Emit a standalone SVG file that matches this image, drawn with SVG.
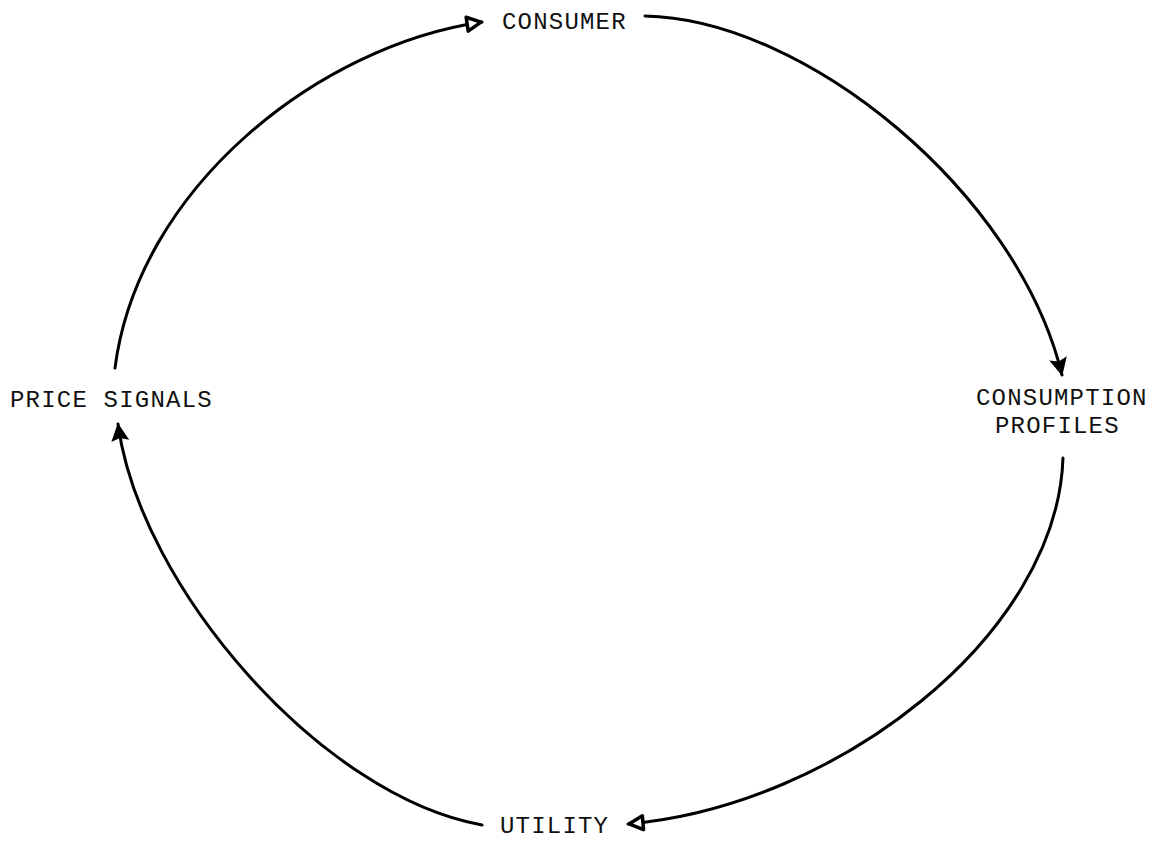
<svg xmlns="http://www.w3.org/2000/svg" width="1159" height="842" viewBox="0 0 1159 842">
  <style>
    .lbl { font-family: "Liberation Mono", "DejaVu Sans Mono", monospace; font-size: 24px; letter-spacing: 1.2px; fill: #111; }
    .conn { fill: none; stroke: #000; stroke-width: 3; stroke-linecap: round; }
  </style>
  <defs>
    <marker id="headSolid" markerUnits="userSpaceOnUse" viewBox="0 0 20 20" markerWidth="20" markerHeight="20" refX="18" refY="10" orient="auto">
      <path d="M1,1 L19,10 L1,19 L4,10 Z" fill="#000"/>
    </marker>
    <marker id="headOpen" markerUnits="userSpaceOnUse" viewBox="0 0 20 20" markerWidth="20" markerHeight="20" refX="18" refY="10" orient="auto">
      <path d="M3,3 L17,10 L3,17 Z" fill="#fff" stroke="#000" stroke-width="3.5" stroke-linejoin="round"/>
    </marker>
  </defs>
  <rect width="1159" height="842" fill="#fff"/>

  <g id="connectors">
    <path class="conn" d="M115,368 C138,188 318,46 482,22" marker-end="url(#headOpen)"/>
    <path class="conn" d="M645,16 C805,19 1018,192 1062,375" marker-end="url(#headSolid)"/>
    <path class="conn" d="M1063,458 C1057,636 836,806 628,824" marker-end="url(#headOpen)"/>
    <path class="conn" d="M482,825 C323,797 140,588 118,424" marker-end="url(#headSolid)"/>
  </g>

  <g id="node-consumer">
    <text class="lbl" x="502" y="29">CONSUMER</text>
  </g>
  <g id="node-consumption-profiles">
    <text class="lbl" x="976" y="405">CONSUMPTION</text>
    <text class="lbl" x="995" y="433">PROFILES</text>
  </g>
  <g id="node-utility">
    <text class="lbl" x="500" y="833">UTILITY</text>
  </g>
  <g id="node-price-signals">
    <text class="lbl" x="10" y="407">PRICE SIGNALS</text>
  </g>
</svg>
